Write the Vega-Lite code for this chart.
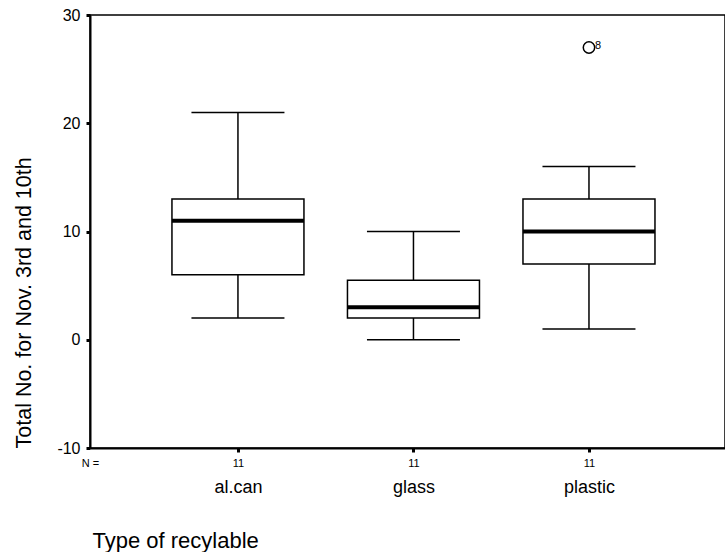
{
  "$schema": "https://vega.github.io/schema/vega-lite/v6.json",
  "width": 635,
  "height": 433,
  "autosize": {"type": "none"},
  "padding": {"left": 90, "top": 15, "right": 0, "bottom": 104},
  "background": "white",
  "config": {
    "view": {"stroke": "black", "strokeWidth": 1.5},
    "font": "Liberation Sans"
  },
  "datasets": {
    "stats": [
      {"type": "al.can", "min": 2, "q1": 6, "median": 11, "q3": 13, "max": 21, "n": 11},
      {"type": "glass", "min": 0, "q1": 2, "median": 3, "q3": 5.5, "max": 10, "n": 11},
      {"type": "plastic", "min": 1, "q1": 7, "median": 10, "q3": 13, "max": 16, "n": 11}
    ],
    "outliers": [
      {"type": "plastic", "value": 27, "case": "8"}
    ]
  },
  "layer": [
    {
      "data": {"name": "stats"},
      "mark": {"type": "rule", "color": "black", "strokeWidth": 1.5},
      "encoding": {
        "x": {
          "field": "type", "type": "nominal",
          "scale": {"type": "point", "padding": 0.809, "align": 0.521},
          "axis": {
            "orient": "bottom",
            "labelExpr": "'11'",
            "labelAngle": 0,
            "labelFontSize": 11,
            "labelColor": "black",
            "labelPadding": 5,
            "domain": true, "domainColor": "black", "domainWidth": 2,
            "ticks": true, "tickColor": "black", "tickSize": 4, "tickWidth": 3,
            "grid": false,
            "title": "N =",
            "titleFontSize": 11,
            "titleFontWeight": "normal",
            "titleColor": "black",
            "titleX": 0,
            "titleY": 15,
            "titleAlign": "center",
            "titleBaseline": "middle"
          }
        },
        "y": {
          "field": "min", "type": "quantitative",
          "scale": {"domain": [-10, 30], "nice": false, "zero": false},
          "axis": {
            "values": [-10, 0, 10, 20, 30],
            "labelExpr": "'' + datum.value",
            "grid": false,
            "domain": true, "domainColor": "black", "domainWidth": 2,
            "ticks": true, "tickColor": "black", "tickSize": 4, "tickWidth": 3,
            "labelFontSize": 16,
            "labelColor": "black",
            "labelPadding": 6,
            "title": "Total No. for Nov. 3rd and 10th",
            "titleFontSize": 21.5,
            "titleFontWeight": "normal",
            "titleColor": "black",
            "titleAngle": 270,
            "titleX": -66,
            "titleY": 433,
            "titleAlign": "left",
            "titleBaseline": "middle"
          }
        },
        "y2": {"field": "max"}
      }
    },
    {
      "data": {"name": "stats"},
      "mark": {"type": "tick", "color": "black", "opacity": 1, "size": 93, "thickness": 1.5, "orient": "horizontal"},
      "encoding": {
        "x": {"field": "type", "type": "nominal", "axis": null},
        "y": {"field": "min", "type": "quantitative"}
      }
    },
    {
      "data": {"name": "stats"},
      "mark": {"type": "tick", "color": "black", "opacity": 1, "size": 93, "thickness": 1.5, "orient": "horizontal"},
      "encoding": {
        "x": {"field": "type", "type": "nominal", "axis": null},
        "y": {"field": "max", "type": "quantitative"}
      }
    },
    {
      "data": {"name": "stats"},
      "mark": {"type": "bar", "size": 132, "fill": "white", "opacity": 1, "stroke": "black", "strokeWidth": 1.5},
      "encoding": {
        "x": {
          "field": "type", "type": "nominal",
          "axis": {
            "orient": "bottom",
            "labelAngle": 0,
            "labelFontSize": 18,
            "labelColor": "black",
            "labelPadding": 30,
            "domain": false,
            "ticks": false,
            "tickSize": 0,
            "grid": false,
            "title": "Type of recylable",
            "titleFontSize": 22,
            "titleFontWeight": "normal",
            "titleColor": "black",
            "titleX": 2,
            "titleY": 92,
            "titleAlign": "left",
            "titleBaseline": "middle"
          }
        },
        "y": {"field": "q1", "type": "quantitative"},
        "y2": {"field": "q3"}
      }
    },
    {
      "data": {"name": "stats"},
      "mark": {"type": "tick", "color": "black", "opacity": 1, "size": 132, "thickness": 4, "orient": "horizontal"},
      "encoding": {
        "x": {"field": "type", "type": "nominal", "axis": null},
        "y": {"field": "median", "type": "quantitative"}
      }
    },
    {
      "data": {"name": "outliers"},
      "mark": {"type": "point", "shape": "circle", "filled": false, "color": "black", "opacity": 1, "strokeWidth": 1.5, "size": 130},
      "encoding": {
        "x": {"field": "type", "type": "nominal", "axis": null},
        "y": {"field": "value", "type": "quantitative"}
      }
    },
    {
      "data": {"name": "outliers"},
      "mark": {"type": "text", "align": "left", "baseline": "middle", "dx": 6, "dy": -1, "fontSize": 11, "color": "black"},
      "encoding": {
        "x": {"field": "type", "type": "nominal", "axis": null},
        "y": {"field": "value", "type": "quantitative"},
        "text": {"field": "case"}
      }
    }
  ],
  "resolve": {"axis": {"x": "independent"}}
}
